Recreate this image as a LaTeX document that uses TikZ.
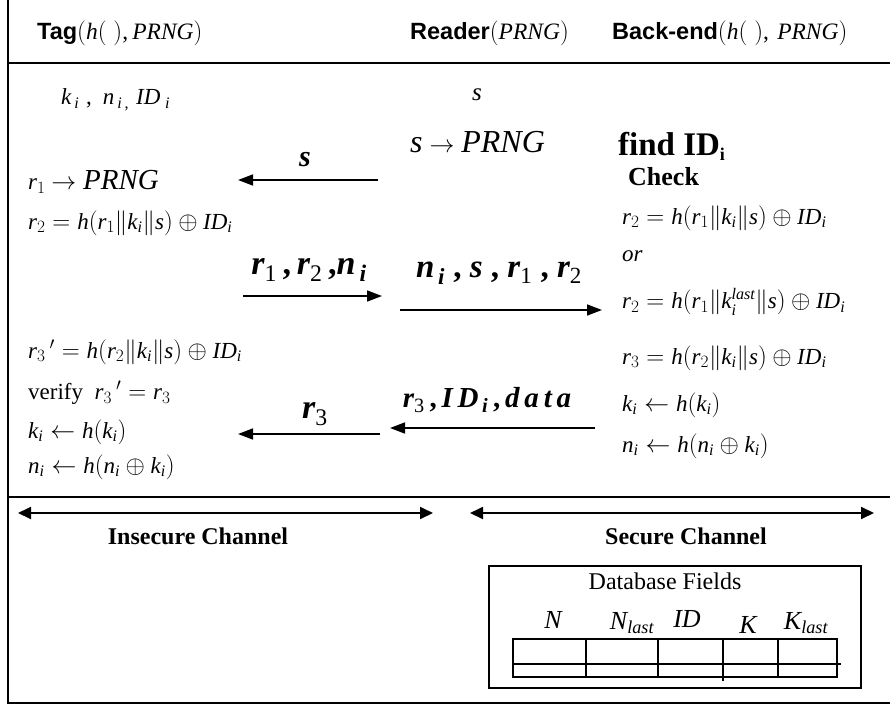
\documentclass[tikz,border=0pt]{standalone}
\usepackage{fontspec}
\setmainfont{Liberation Serif}
\newfontfamily\arialfont{Liberation Sans}
\DeclareSymbolFont{myit}{TU}{\rmdefault}{m}{it}
\DeclareSymbolFont{myup}{TU}{\rmdefault}{m}{n}
\newcount\mycnt
\mycnt=97
\loop
  \Umathcode\mycnt=7 \symmyit \mycnt
  \advance\mycnt by 1
\ifnum\mycnt<123 \repeat
\mycnt=65
\loop
  \Umathcode\mycnt=7 \symmyit \mycnt
  \advance\mycnt by 1
\ifnum\mycnt<91 \repeat
\mycnt=48
\loop
  \Umathcode\mycnt=7 \symmyup \mycnt
  \advance\mycnt by 1
\ifnum\mycnt<58 \repeat
\Umathcode`,=6 \symmyup `,
\Umathcode`.=0 \symmyup `.
\Umathcode`(=4 \symmyup `(
\Umathcode`)=5 \symmyup `)
\Umathcode`==3 \symmyup `=
\usetikzlibrary{arrows.meta}
\newcommand\bi[1]{{\bfseries\itshape #1}}
\tikzset{
  txt/.style={anchor=west, inner sep=0pt, font=\fontsize{23}{26}\selectfont},
  hdr/.style={anchor=west, inner sep=0pt, font=\fontsize{23.5}{26}\selectfont},
  lbl/.style={inner sep=0pt},
  msgarrow/.style={-{Triangle[length=15pt,width=11pt]}, line width=1.6pt},
  chanarrow/.style={{Triangle[length=13pt,width=12pt]}-{Triangle[length=13pt,width=12pt]}, line width=1.8pt},
  frameline/.style={line width=1.6pt},
  gridline/.style={line width=1.5pt},
  fieldhdr/.style={inner sep=0pt, font=\fontsize{26}{28}\selectfont\itshape},
}
\begin{document}
\begin{tikzpicture}[x=1pt,y=-1pt]
\useasboundingbox (0,0) rectangle (890,706);
\begin{scope}
\clip (0,0) rectangle (890,706);
\draw[frameline] (8,-5) rectangle (895,703);
\draw[frameline] (8,63) -- (895,63);
\draw[frameline] (8,497) -- (895,497);
\end{scope}

% headers
\node[hdr] (htag) at (37,33) {{\arialfont\bfseries Tag}$(h(\;),PRNG)$};
\node[hdr] (hread) at (410,33) {{\arialfont\bfseries Reader}$(PRNG)$};
\node[hdr] (hback) at (612,33) {{\arialfont\bfseries Back-end}$(h(\;),\,PRNG)$};

% tag column
\node[txt, font=\fontsize{23}{25}\selectfont] (kni) at (61,100) {$k_{\,i}\;,\;n_{\,i\,,}\;ID_{\;i}$};
\node[txt] (t1) at (28,182) {$r_1$ {\fontsize{29}{30}\selectfont$\rightarrow PRNG$}};
\node[txt] (t2) at (28,223) {$r_2 = h(r_1\|k_i\|s)\oplus ID_i$};
\node[txt] (t3) at (28,352) {$r_3\,{}' = h(r_2\|k_i\|s)\oplus ID_i$};
\node[txt] (t4) at (28,393) {verify\ \ $r_3\,{}' = r_3$};
\node[txt] (t5) at (28,432) {$k_i \leftarrow h(k_i)$};
\node[txt] (t6) at (28,467) {$n_i \leftarrow h(n_i \oplus k_i)$};

% reader column
\node[lbl, font=\fontsize{25}{26}\selectfont] (rs) at (477,95) {$s$};
\node[txt, font=\fontsize{32}{34}\selectfont] (rprng) at (410,142) {$s \rightarrow PRNG$};

% back-end column
\node[txt, font=\fontsize{33}{35}\selectfont\bfseries] (find) at (618,146) {find ID{\fontsize{18}{20}\selectfont\raisebox{-5pt}{i}}};
\node[txt, font=\fontsize{26}{28}\selectfont\bfseries] (check) at (628,177) {Check};
\node[txt] (b1) at (622,218) {$r_2 = h(r_1\|k_i\|s)\oplus ID_i$};
\node[txt] (bor) at (622,256) {$or$};
\node[txt] (b2) at (622,302) {$r_2 = h(r_1\|k_i^{last}\|s)\oplus ID_i$};
\node[txt] (b3) at (622,358) {$r_3 = h(r_2\|k_i\|s)\oplus ID_i$};
\node[txt] (b4) at (622,405) {$k_i \leftarrow h(k_i)$};
\node[txt] (b5) at (622,446) {$n_i \leftarrow h(n_i \oplus k_i)$};

% messages
\coordinate (m1s) at (378,180); \coordinate (m1e) at (238,180);
\draw[msgarrow] (m1s) -- (m1e);
\node[lbl, font=\fontsize{30}{32}\selectfont] (m1l) at (305,160) {\bi{s}};

\coordinate (m2s) at (243,296); \coordinate (m2e) at (382,296);
\draw[msgarrow] (m2s) -- (m2e);
\node[lbl, font=\fontsize{34}{36}\selectfont] (m2l) at (309,270) {\bi{r}\textsubscript{1}\,\textbf{,}\,\bi{r}\textsubscript{2}\,\textbf{,}\bi{n}\textsubscript{\bi{\,i}}};

\coordinate (m3s) at (400,310); \coordinate (m3e) at (602,310);
\draw[msgarrow] (m3s) -- (m3e);
\node[lbl, font=\fontsize{33}{35}\selectfont] (m3l) at (499,273) {\bi{n}\textsubscript{\bi{\,i}}\ \textbf{,}\ \bi{s}\ \textbf{,}\ \bi{r}\textsubscript{1}\ \textbf{,}\ \bi{r}\textsubscript{2}};

\coordinate (m4s) at (595,428); \coordinate (m4e) at (390,428);
\draw[msgarrow] (m4s) -- (m4e);
\node[lbl, font=\fontsize{29}{31}\selectfont] (m4l) at (487,400) {\bi{r}\textsubscript{3}\,\textbf{,}\,\bi{I\,D}\textsubscript{\bi{\,i}}\,\textbf{,}\,\bi{d\,a\,t\,a}};

\coordinate (m5s) at (380,434); \coordinate (m5e) at (238,434);
\draw[msgarrow] (m5s) -- (m5e);
\node[lbl, font=\fontsize{34}{36}\selectfont] (m5l) at (315,414) {\bi{r}\textsubscript{3}};

% channels
\coordinate (ic1) at (18,513); \coordinate (ic2) at (433,513);
\draw[chanarrow] (ic1) -- (ic2);
\node[lbl, font=\fontsize{24}{26}\selectfont\bfseries] (icl) at (198,536) {Insecure Channel};
\coordinate (sc1) at (470,513); \coordinate (sc2) at (874,513);
\draw[chanarrow] (sc1) -- (sc2);
\node[lbl, font=\fontsize{24}{26}\selectfont\bfseries] (scl) at (686,536) {Secure Channel};

% database table
\node[draw, line width=1.5pt, minimum width=372pt, minimum height=122pt, inner sep=0pt] (db) at (675,627) {};
\node[lbl, font=\fontsize{24}{26}\selectfont] (dbl) at (665,581) {Database Fields};
\node[fieldhdr] (fN) at (553,620) {N};
\node[fieldhdr] (fNl) at (632,623) {N\textsubscript{last}};
\node[fieldhdr] (fID) at (687,619) {ID};
\node[fieldhdr] (fK) at (748,625) {K};
\node[fieldhdr] (fKl) at (806,623) {K\textsubscript{last}};
\draw[gridline] (513,639) rectangle (837,677);
\draw[gridline] (513,664) -- (841,664);
\foreach \xx in {586,658,778} \draw[gridline] (\xx,639) -- (\xx,677);
\draw[gridline] (723,639) -- (723,681);
\end{tikzpicture}
\end{document}
